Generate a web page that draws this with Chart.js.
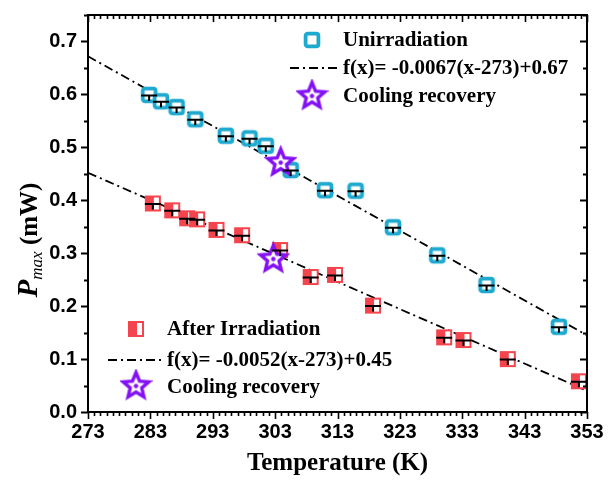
<!DOCTYPE html>
<html>
<head>
<meta charset="utf-8">
<script src="https://cdn.jsdelivr.net/npm/chart.js@4.4.0/dist/chart.umd.min.js"></script>
<style>
  body { margin: 0; background: #fff; }
  #wrap { width: 613px; height: 484px; }
</style>
</head>
<body>
<div id="wrap"><canvas id="c"></canvas></div>
<script>
// values
var tempUnirr = [282.8, 284.7, 287.2, 290.2, 295.1, 298.9, 301.5, 305.5, 311.0, 315.9, 321.9, 329.0, 336.9, 348.5];
var pUnirr    = [0.599, 0.587, 0.576, 0.553, 0.522, 0.517, 0.503, 0.457, 0.419, 0.418, 0.349, 0.296, 0.240, 0.161];

var tempIrr = [283.4, 286.5, 288.9, 290.5, 293.6, 297.7, 303.8, 308.7, 312.6, 318.7, 330.1, 333.2, 340.3, 351.7];
var pIrr    = [0.394, 0.381, 0.366, 0.364, 0.344, 0.334, 0.306, 0.255, 0.259, 0.201, 0.141, 0.136, 0.100, 0.058];

var coolUnirr = [{ x: 303.9, y: 0.473 }];
var coolIrr   = [{ x: 302.7, y: 0.291 }];

var fitX      = [273, 353];
var fitUnirrY = [0.672, 0.145];
var fitIrrY   = [0.452, 0.040];

var xTicks = [273, 283, 293, 303, 313, 323, 333, 343, 353];

var BLUE = '#1ea9cf';
var RED = '#f4444d';
var PURPLE = '#8410f5';

function pts(xs, ys) {
  return xs.map(function (x, i) { return { x: x, y: ys[i] }; });
}

// marker images
function blueSquare() {
  var c = document.createElement('canvas');
  c.width = 20; c.height = 20;
  var g = c.getContext('2d');
  g.strokeStyle = BLUE; g.lineWidth = 3.8; g.fillStyle = '#fff';
  g.beginPath(); g.roundRect(3.6, 3.6, 12.8, 12.8, 2.2); g.fill(); g.stroke();
  return c;
}
function redSquare() {
  var c = document.createElement('canvas');
  c.width = 18; c.height = 18;
  var g = c.getContext('2d');
  g.fillStyle = '#fff'; g.fillRect(1.5, 1.5, 15, 15);
  g.fillStyle = RED; g.fillRect(1.5, 1.5, 8.5, 15);
  g.strokeStyle = RED; g.lineWidth = 2;
  g.strokeRect(2, 2, 14, 14);
  return c;
}
function star(R) {
  var s = Math.ceil(R * 2 + 6);
  var c = document.createElement('canvas');
  c.width = s; c.height = s;
  var g = c.getContext('2d');
  var cx = s / 2, cy = s / 2 + 1, r = R * 0.45;
  g.beginPath();
  for (var i = 0; i < 10; i++) {
    var a = -Math.PI / 2 + i * Math.PI / 5;
    var rr = i % 2 === 0 ? R : r;
    g.lineTo(cx + rr * Math.cos(a), cy + rr * Math.sin(a));
  }
  g.closePath();
  g.fillStyle = '#fff'; g.fill();
  g.strokeStyle = PURPLE; g.lineWidth = 3.4; g.lineJoin = 'miter'; g.stroke();
  g.beginPath(); g.arc(cx, cy, 2.2, 0, Math.PI * 2); g.fillStyle = PURPLE; g.fill();
  return c;
}

var imgBlue = blueSquare();
var imgRed = redSquare();
var imgStar = star(13.5);

var SERIF = '"Liberation Serif", "Times New Roman", serif';
var SANS = '"Liberation Sans", Arial, sans-serif';

// frame, ticks, error caps, legends and axis titles
var decor = {
  id: 'decor',
  afterDatasetsDraw: function (chart) {
    var ctx = chart.ctx, xs = chart.scales.x, ys = chart.scales.y;
    ctx.save();
    ctx.strokeStyle = '#000';
    ctx.lineWidth = 2;
    [[tempUnirr, pUnirr], [tempIrr, pIrr]].forEach(function (s) {
      s[0].forEach(function (t, i) {
        var px = xs.getPixelForValue(t), py = ys.getPixelForValue(s[1][i]);
        ctx.beginPath();
        ctx.moveTo(px - 8, py + 0.5); ctx.lineTo(px + 8, py + 0.5);
        ctx.moveTo(px, py); ctx.lineTo(px, py + 6);
        ctx.stroke();
      });
    });
    ctx.restore();
  },
  afterDraw: function (chart) {
    var ctx = chart.ctx, a = chart.chartArea, xs = chart.scales.x, ys = chart.scales.y;
    ctx.save();
    ctx.strokeStyle = '#000';
    ctx.lineWidth = 2;
    ctx.strokeRect(a.left, a.top, a.right - a.left, a.bottom - a.top);

    ctx.beginPath();
    for (var t = 273; t <= 353; t++) {
      var px = Math.round(xs.getPixelForValue(t)) + 0.5;
      var major = (t - 273) % 10 === 0;
      var len = major ? 7 : 4;
      ctx.moveTo(px, a.bottom); ctx.lineTo(px, a.bottom + len);
      ctx.moveTo(px, a.top); ctx.lineTo(px, a.top + len);
    }
    ctx.lineWidth = 1.6;
    ctx.stroke();

    ctx.beginPath();
    for (var k = 0; k <= 15; k++) {
      var v = k * 0.05;
      var py = Math.round(ys.getPixelForValue(v)) + 0.5;
      var len2 = k % 2 === 0 ? 7 : 4;
      ctx.moveTo(a.left, py); ctx.lineTo(a.left - len2, py);
      ctx.moveTo(a.right, py); ctx.lineTo(a.right - len2, py);
    }
    ctx.lineWidth = 2;
    ctx.stroke();

    // legends
    ctx.fillStyle = '#000';
    ctx.textBaseline = 'middle';
    ctx.textAlign = 'left';
    ctx.font = 'bold 21px ' + SERIF;

    function dashSample(x1, x2, y) {
      ctx.save();
      ctx.setLineDash([9, 4, 2, 4]);
      ctx.lineWidth = 1.8;
      ctx.beginPath(); ctx.moveTo(x1, y); ctx.lineTo(x2, y); ctx.stroke();
      ctx.restore();
    }
    function img(im, x, y) { ctx.drawImage(im, x - im.width / 2, y - im.height / 2); }

    img(imgBlue, 312, 40);
    ctx.fillText('Unirradiation', 343, 41);
    dashSample(290, 337, 68);
    ctx.fillText('f(x)= -0.0067(x-273)+0.67', 343, 69);
    img(imgStar, 312, 95);
    ctx.fillText('Cooling recovery', 343, 97);

    img(imgRed, 136, 329);
    ctx.fillText('After Irradiation', 167, 330);
    dashSample(108, 162, 360);
    ctx.fillText('f(x)= -0.0052(x-273)+0.45', 167, 361);
    img(imgStar, 136, 385);
    ctx.fillText('Cooling recovery', 167, 388);

    // x title
    ctx.textAlign = 'center';
    ctx.font = 'bold 25px ' + SERIF;
    ctx.fillText('Temperature (K)', (a.left + a.right) / 2, 464);

    // y title: P_max (mW)
    ctx.translate(28, 240);
    ctx.rotate(-Math.PI / 2);
    var f1 = 'italic bold 29px ' + SERIF, f2 = 'italic 17px ' + SERIF, f3 = 'bold 25px ' + SERIF;
    ctx.font = f1; var w1 = ctx.measureText('P').width;
    ctx.font = f2; var w2 = ctx.measureText('max').width;
    ctx.font = f3; var w3 = ctx.measureText(' (mW)').width;
    var x0 = -(w1 + w2 + w3) / 2;
    ctx.textAlign = 'left';
    ctx.textBaseline = 'alphabetic';
    ctx.font = f1; ctx.fillText('P', x0, 9);
    ctx.font = f2; ctx.fillText('max', x0 + w1, 14);
    ctx.font = f3; ctx.fillText(' (mW)', x0 + w1 + w2, 9);
    ctx.restore();
  }
};

var ctx = document.getElementById('c').getContext('2d');
window.pmaxChart = new Chart(ctx, {
  type: 'scatter',
  data: {
    datasets: [{
      label: 'Unirradiation',
      data: pts(tempUnirr, pUnirr),
      pointStyle: imgBlue,
      pointRadius: 7,
      order: 5
    }, {
      label: 'After Irradiation',
      data: pts(tempIrr, pIrr),
      pointStyle: imgRed,
      pointRadius: 7,
      order: 5
    }, {
      label: 'fit unirradiation',
      data: pts(fitX, fitUnirrY),
      showLine: true,
      borderColor: '#000',
      borderWidth: 1.8,
      borderDash: [9, 4, 2, 4],
      pointRadius: 0,
      order: 10
    }, {
      label: 'fit irradiation',
      data: pts(fitX, fitIrrY),
      showLine: true,
      borderColor: '#000',
      borderWidth: 1.8,
      borderDash: [9, 4, 2, 4],
      pointRadius: 0,
      order: 10
    }, {
      label: 'Cooling recovery',
      data: coolUnirr,
      pointStyle: imgStar,
      pointRadius: 12,
      order: 1
    }, {
      label: 'Cooling recovery ',
      data: coolIrr,
      pointStyle: imgStar,
      pointRadius: 12,
      order: 1
    }]
  },
  options: {
    responsive: true,
    maintainAspectRatio: false,
    devicePixelRatio: 1,
    animation: false,
    layout: { padding: { top: 13, right: 26, left: 0, bottom: 0 } },
    plugins: { legend: { display: false }, tooltip: { enabled: false } },
    scales: {
      x: {
        type: 'linear',
        min: 273,
        max: 353,
        afterBuildTicks: function (scale) {
          scale.ticks = xTicks.map(function (v) { return { value: v }; });
        },
        afterFit: function (scale) { scale.height = 72; },
        grid: { display: false },
        border: { display: false },
        ticks: {
          padding: 0,
          color: '#000',
          font: { family: SANS, size: 20, weight: 'bold' },
          callback: function (v) { return String(v); }
        }
      },
      y: {
        min: 0,
        max: 0.75,
        afterFit: function (scale) { scale.width = 88; },
        grid: { display: false },
        border: { display: false },
        ticks: {
          stepSize: 0.1,
          includeBounds: false,
          padding: 3,
          color: '#000',
          font: { family: SANS, size: 20, weight: 'bold' },
          callback: function (v) { return v.toFixed(1); }
        }
      }
    }
  },
  plugins: [decor]
});
</script>
</body>
</html>
